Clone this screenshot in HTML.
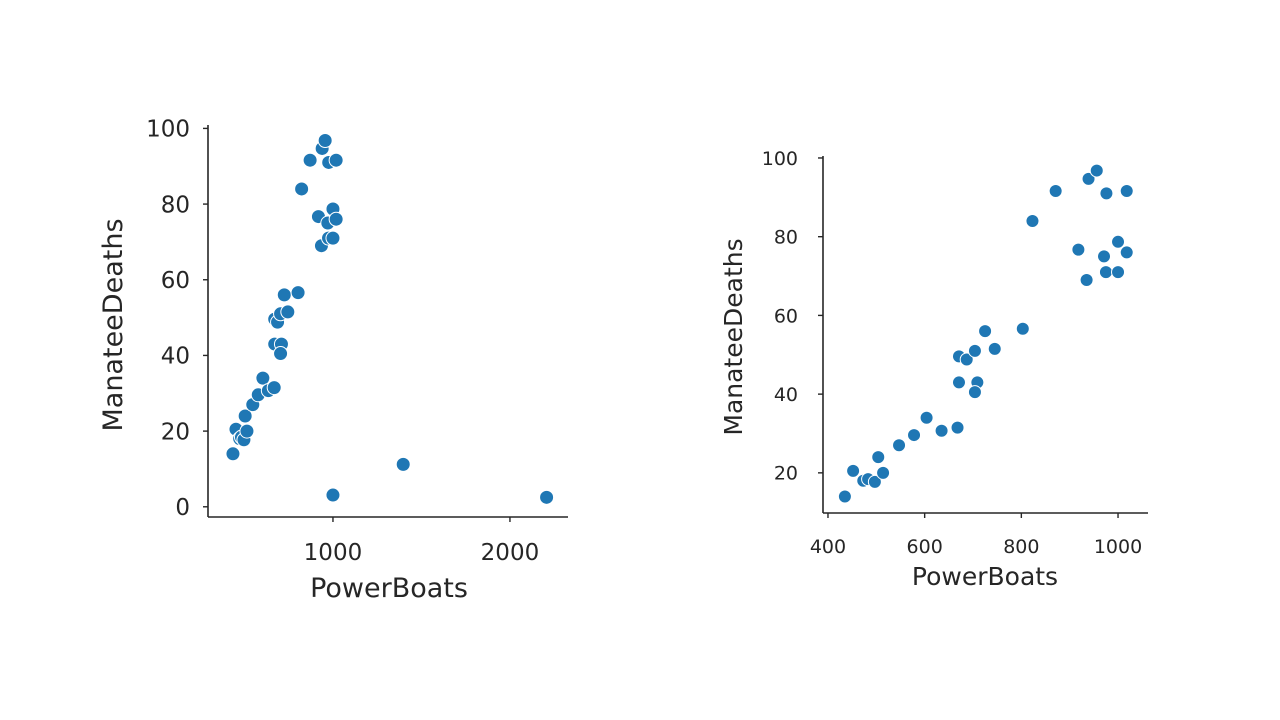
<!DOCTYPE html>
<html><head><meta charset="utf-8">
<style>
html,body{margin:0;padding:0;background:#fff;}
svg{display:block;font-family:"DejaVu Sans","Liberation Sans",sans-serif;}
</style></head>
<body>
<svg id="chart" width="1280" height="720" viewBox="0 0 1280 720"></svg>
<script>
const boats = [435,452,473,483,497,514,504,547,578,604,635,668,671,671,687,704,709,704,725,745,803,823,871,918,935,939,956,976,971,975,1000,1000,1018,1018,1000,1397,2207];
const deaths = [14,20.5,18,18.4,17.7,20,24,27,29.6,34,30.7,31.5,43,49.6,48.8,51,43,40.5,56,51.5,56.6,84,91.6,76.7,69,94.7,96.8,91,75,71,71,78.7,76,91.6,3.1,11.2,2.5];
const rightCount = 34;
const leftXTicks = [1000,2000];
const leftYTicks = [0,20,40,60,80,100];
const rightXTicks = [400,600,800,1000];
const rightYTicks = [20,40,60,80,100];

const NS="http://www.w3.org/2000/svg";
const svg=document.getElementById('chart');
function mk(tag,attrs,parent){const e=document.createElementNS(NS,tag);for(const k in attrs)e.setAttribute(k,attrs[k]);(parent||svg).appendChild(e);return e;}

function panel(cfg){
  const g=mk('g',{});
  
  
  const sx=v=>cfg.x0+(v-cfg.xd[0])/(cfg.xd[1]-cfg.xd[0])*(cfg.x1-cfg.x0);
  const sy=v=>cfg.y0-(v-cfg.yd[0])/(cfg.yd[1]-cfg.yd[0])*(cfg.y0-cfg.y1);
  const ax=mk('line',{x1:cfg.x0,y1:cfg.y0,x2:cfg.x1,y2:cfg.y0,stroke:'#262626','stroke-width':1.6},g);
  
  
  const ay=mk('line',{x1:cfg.x0,y1:cfg.y0,x2:cfg.x0,y2:cfg.y1,stroke:'#262626','stroke-width':1.6},g);
  
  
  cfg.xt.forEach(t=>{
    const x=sx(t);
    mk('line',{x1:x,y1:cfg.y0,x2:x,y2:cfg.y0+5,stroke:'#262626','stroke-width':1.4},g);
    const tx=mk('text',{x:x,y:cfg.xtb,'text-anchor':'middle','font-size':cfg.fs,fill:'#262626'},g);
    tx.textContent=t;
    
    
  });
  cfg.yt.forEach(t=>{
    const y=sy(t);
    mk('line',{x1:cfg.x0-5,y1:y,x2:cfg.x0,y2:y,stroke:'#262626','stroke-width':1.4},g);
    const tx=mk('text',{x:cfg.yta,y:y+cfg.fs*0.36,'text-anchor':'end','font-size':cfg.fs,fill:'#262626'},g);
    tx.textContent=t;
    
    
  });
  const xl=mk('text',{x:cfg.xl[0],y:cfg.xl[1],'text-anchor':'middle','font-size':cfg.lfs,fill:'#262626'},g);
  xl.textContent='PowerBoats';
  
  
  const yl=mk('text',{x:0,y:0,'text-anchor':'middle','font-size':cfg.lfs,fill:'#262626',transform:`translate(${cfg.yl[0]},${cfg.yl[1]}) rotate(-90)`},g);
  yl.textContent='ManateeDeaths';
  
  
  for(let i=0;i<cfg.n;i++){
    const c=mk('circle',{cx:sx(boats[i]),cy:sy(deaths[i]),r:cfg.r,fill:'#1f77b4',stroke:'#fff','stroke-width':1},g);
    
    
  }
}
panel({name:'left-scatter',x0:208,x1:568,y0:517,y1:125,xd:[294,2328],yd:[-2.7,100.9],xt:leftXTicks,yt:leftYTicks,fs:23,lfs:27,xtb:560,yta:190,xl:[389,597],yl:[122,325],n:boats.length,r:7});
panel({name:'right-scatter',x0:823,x1:1148,y0:513,y1:156,xd:[389.7,1062],yd:[9.8,100.5],xt:rightXTicks,yt:rightYTicks,fs:19,lfs:25,xtb:553,yta:798,xl:[985,585],yl:[742,337],n:rightCount,r:6.5});
</script>
</body></html>
